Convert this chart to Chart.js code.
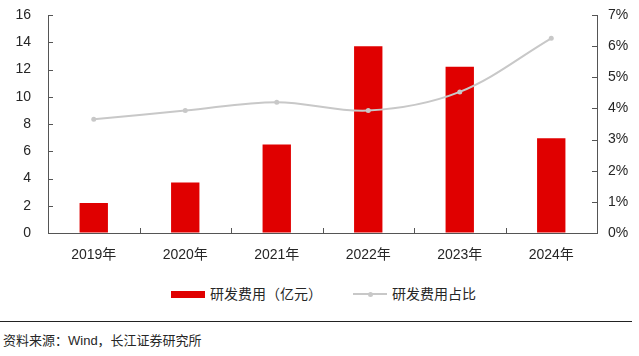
<!DOCTYPE html>
<html><head><meta charset="utf-8">
<script src="https://cdn.jsdelivr.net/npm/chart.js@4/dist/chart.umd.min.js"></script>
<style>
body{margin:0;background:#fff;font-family:"Liberation Sans",Arial,"Noto Sans CJK SC",sans-serif;color:#262626;}
#wrap{position:relative;width:639px;height:356px;overflow:hidden;}
#c{position:absolute;left:0;top:0;}
.leg{position:absolute;top:285px;font-size:14px;line-height:18px;white-space:nowrap;}
.sep{position:absolute;left:0;top:321px;width:632px;height:1px;background:#222;}
.src{position:absolute;left:3px;top:332px;font-size:13px;line-height:18px;white-space:nowrap;}
</style></head>
<body>
<div id="wrap">
<canvas id="c" width="639" height="272"></canvas>
<div class="leg" style="left:171px"><span style="display:inline-block;width:34px;height:7px;background:#e00000;vertical-align:middle;margin-right:5px;position:relative;top:-1px"></span><span id="l1"></span></div>
<div class="leg" style="left:353px"><span style="display:inline-block;width:34px;height:2px;background:#c8c8c8;vertical-align:middle;margin-right:5px;position:relative;top:-1px"><span style="position:absolute;left:15px;top:-1.5px;width:5px;height:5px;border-radius:50%;background:#c8c8c8"></span></span><span id="l2"></span></div>
<div class="sep"></div>
<div class="src">资料来源：Wind，长江证券研究所</div>
</div>
<script>
const categories = ["2019年","2020年","2021年","2022年","2023年","2024年"];
const rdExpense = [2.2, 3.7, 6.5, 13.7, 12.2, 6.95];
const rdRatio = [3.65, 3.93, 4.2, 3.93, 4.53, 6.25];
const seriesNames = ["研发费用（亿元）", "研发费用占比"];

document.getElementById('l1').textContent = seriesNames[0];
document.getElementById('l2').textContent = seriesNames[1];

const FONT = '"Liberation Sans", Arial, "Noto Sans CJK SC", sans-serif';
const AX = '#555';

const innerTicks = {
  id: 'innerTicks',
  afterDatasetsDraw(chart) {
    const ctx = chart.ctx, ca = chart.chartArea;
    const yl = chart.scales.y, yr = chart.scales.y1, x = chart.scales.x;
    ctx.save();
    ctx.strokeStyle = AX; ctx.lineWidth = 1;
    ctx.beginPath();
    yl.ticks.forEach((t, i) => { const p = Math.round(yl.getPixelForTick(i)) + 0.5; ctx.moveTo(ca.left, p); ctx.lineTo(ca.left + 5, p); });
    yr.ticks.forEach((t, i) => { const p = Math.round(yr.getPixelForTick(i)) + 0.5; ctx.moveTo(ca.right, p); ctx.lineTo(ca.right - 5, p); });
    for (let i = 1; i < categories.length; i++) {
      const p = Math.round((x.getPixelForValue(i - 1) + x.getPixelForValue(i)) / 2) + 0.5;
      ctx.moveTo(p, ca.bottom); ctx.lineTo(p, ca.bottom - 5);
    }
    ctx.stroke();
    ctx.restore();
  }
};

new Chart(document.getElementById('c'), {
  data: {
    labels: categories,
    datasets: [
      { type: 'line', label: seriesNames[1], data: rdRatio, yAxisID: 'y1', order: 0,
        borderColor: '#c8c8c8', backgroundColor: '#c8c8c8', borderWidth: 2,
        pointRadius: 2.5, pointBorderWidth: 0, tension: 0.35 },
      { type: 'bar', label: seriesNames[0], data: rdExpense, yAxisID: 'y', order: 1,
        backgroundColor: '#e00000', categoryPercentage: 1, barPercentage: 0.31 }
    ]
  },
  options: {
    responsive: false, animation: false, devicePixelRatio: 1,
    layout: { padding: { top: 15, left: 0, right: 0, bottom: 0 } },
    plugins: { legend: { display: false }, tooltip: { enabled: false } },
    scales: {
      x: {
        offset: true,
        grid: { drawOnChartArea: false, drawTicks: false },
        border: { color: AX, width: 1 },
        ticks: { color: '#262626', font: { family: FONT, size: 14 }, padding: 14, maxRotation: 0 },
        afterFit(s) { s.height = 39; s.paddingLeft = 0; s.paddingRight = 0; }
      },
      y: {
        position: 'left', min: 0, max: 16,
        grid: { drawOnChartArea: false, drawTicks: false },
        border: { color: AX, width: 1 },
        ticks: { stepSize: 2, color: '#262626', font: { family: FONT, size: 14 }, padding: 17 },
        afterFit(s) { s.width = 48; s.paddingTop = 0; s.paddingBottom = 0; }
      },
      y1: {
        position: 'right', min: 0, max: 7,
        grid: { drawOnChartArea: false, drawTicks: false },
        border: { color: AX, width: 1 },
        ticks: { stepSize: 1, color: '#262626', font: { family: FONT, size: 14 }, padding: 11,
          callback: v => v + '%' },
        afterFit(s) { s.width = 42; s.paddingTop = 0; s.paddingBottom = 0; }
      }
    }
  },
  plugins: [innerTicks]
});
</script>
</body></html>
